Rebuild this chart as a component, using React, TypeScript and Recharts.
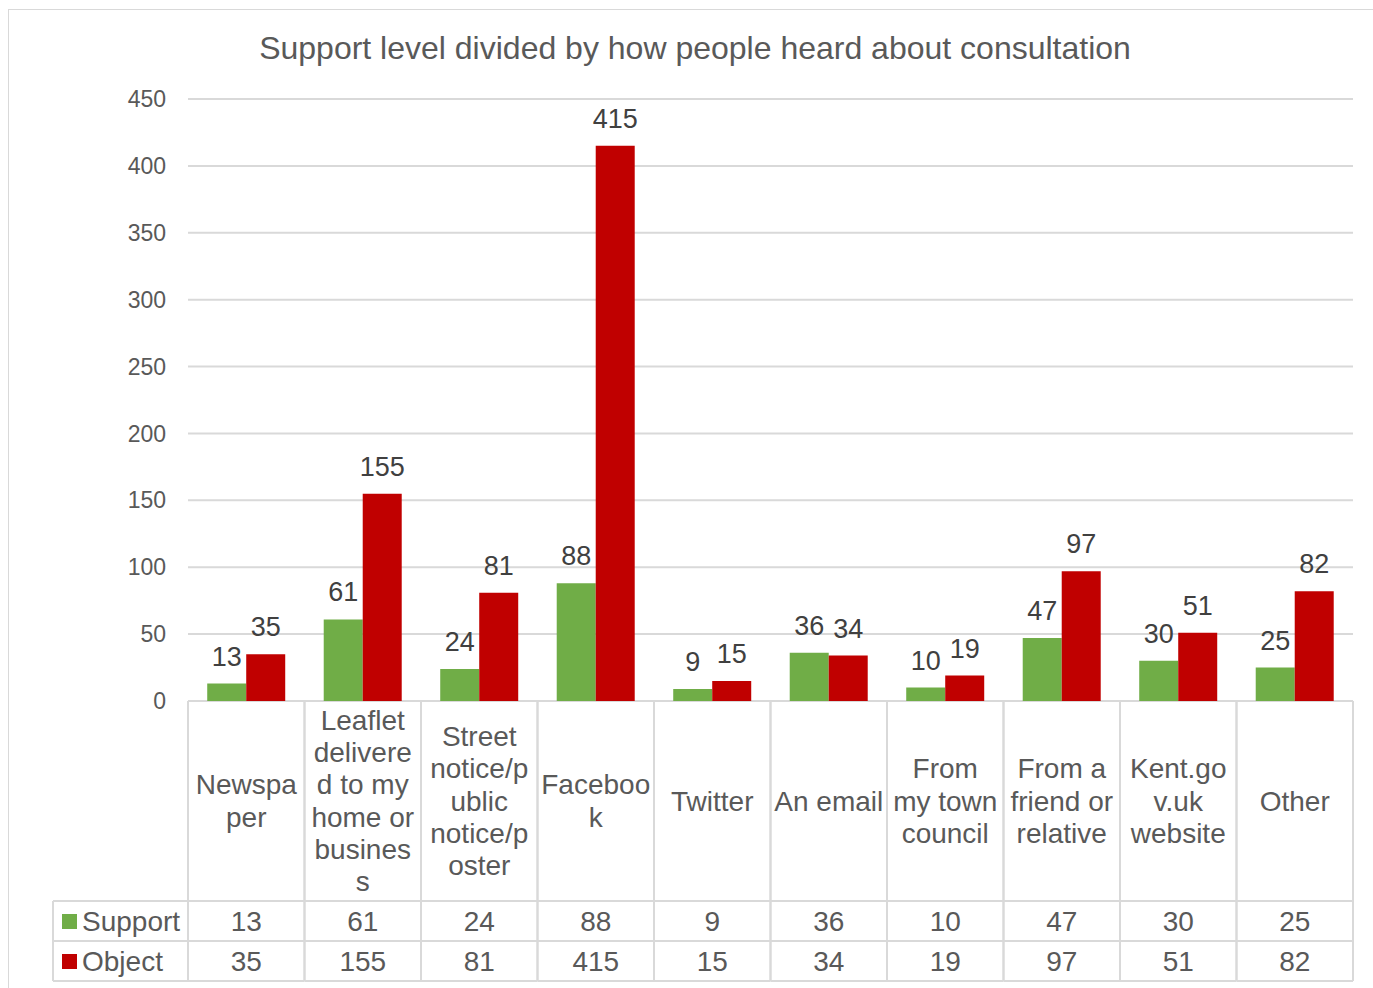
import { BarChart, Bar, XAxis, YAxis, CartesianGrid, LabelList } from 'recharts'

const categories = [
  'Newspaper',
  'Leaflet delivered to my home or business',
  'Street notice/public notice/poster',
  'Facebook',
  'Twitter',
  'An email',
  'From my town council',
  'From a friend or relative',
  'Kent.gov.uk website',
  'Other',
]

// wrapped the same way the source table wraps them
const categoryLines = [
  ['Newspa', 'per'],
  ['Leaflet', 'delivere', 'd to my', 'home or', 'busines', 's'],
  ['Street', 'notice/p', 'ublic', 'notice/p', 'oster'],
  ['Faceboo', 'k'],
  ['Twitter'],
  ['An email'],
  ['From', 'my town', 'council'],
  ['From a', 'friend or', 'relative'],
  ['Kent.go', 'v.uk', 'website'],
  ['Other'],
]

const supportValues = [13, 61, 24, 88, 9, 36, 10, 47, 30, 25]
const objectValues = [35, 155, 81, 415, 15, 34, 19, 97, 51, 82]
const yTicks = [0, 50, 100, 150, 200, 250, 300, 350, 400, 450]

const data = categories.map((name, i) => ({
  name,
  support: supportValues[i],
  object: objectValues[i],
}))

const W = 1373
const H = 988
const PLOT_LEFT = 188
const PLOT_RIGHT = 1353
const PLOT_TOP = 99
const PLOT_BOTTOM = 701
const CELL_W = (PLOT_RIGHT - PLOT_LEFT) / categories.length
const HEADER_H = 200
const ROW_H = 40
const ROW_LABEL_LEFT = 53

const GREEN = '#70AD47'
const RED = '#C00000'
const BORDER = '#d9d9d9'
const TEXT = '#595959'
const FONT = '"Liberation Sans", Arial, sans-serif'

function TableTick(props: any) {
  const { x, y, payload, index } = props
  const lines = categoryLines[index] || [payload.value]
  const left = x - CELL_W / 2
  const right = x + CELL_W / 2
  const r1 = y + HEADER_H
  const r2 = r1 + ROW_H
  const r3 = r2 + ROW_H
  const lh = 32.3
  const firstY = y + HEADER_H / 2 - ((lines.length - 1) * lh) / 2

  return (
    <g fontFamily={FONT}>
      <line x1={left} y1={y} x2={left} y2={r3} stroke={BORDER} strokeWidth={2} />
      <line x1={right} y1={y} x2={right} y2={r3} stroke={BORDER} strokeWidth={2} />
      <line x1={left} y1={r1} x2={right} y2={r1} stroke={BORDER} strokeWidth={2} />
      <line x1={left} y1={r2} x2={right} y2={r2} stroke={BORDER} strokeWidth={2} />
      <line x1={left} y1={r3} x2={right} y2={r3} stroke={BORDER} strokeWidth={2} />
      {lines.map((t: string, i: number) => (
        <text
          key={i}
          x={x}
          y={firstY + i * lh}
          textAnchor="middle"
          dominantBaseline="central"
          fontSize={28}
          fill={TEXT}
        >
          {t}
        </text>
      ))}
      <text x={x} y={r1 + ROW_H / 2} textAnchor="middle" dominantBaseline="central" fontSize={28} fill={TEXT}>
        {supportValues[index]}
      </text>
      <text x={x} y={r2 + ROW_H / 2} textAnchor="middle" dominantBaseline="central" fontSize={28} fill={TEXT}>
        {objectValues[index]}
      </text>
      {index === 0 && (
        <g>
          <line x1={ROW_LABEL_LEFT} y1={r1} x2={left} y2={r1} stroke={BORDER} strokeWidth={2} />
          <line x1={ROW_LABEL_LEFT} y1={r2} x2={left} y2={r2} stroke={BORDER} strokeWidth={2} />
          <line x1={ROW_LABEL_LEFT} y1={r3} x2={left} y2={r3} stroke={BORDER} strokeWidth={2} />
          <line x1={ROW_LABEL_LEFT} y1={r1} x2={ROW_LABEL_LEFT} y2={r3} stroke={BORDER} strokeWidth={2} />
          <rect x={62} y={r1 + 13} width={15} height={15} fill={GREEN} />
          <rect x={62} y={r2 + 13} width={15} height={15} fill={RED} />
          <text x={82} y={r1 + ROW_H / 2} dominantBaseline="central" fontSize={28} fill={TEXT}>
            Support
          </text>
          <text x={82} y={r2 + ROW_H / 2} dominantBaseline="central" fontSize={28} fill={TEXT}>
            Object
          </text>
        </g>
      )}
    </g>
  )
}

export default function App() {
  return (
    <div
      style={{
        position: 'fixed',
        left: 0,
        top: 0,
        width: W,
        height: H,
        overflow: 'hidden',
        background: '#fff',
        fontFamily: FONT,
      }}
    >
      <div
        style={{
          position: 'absolute',
          left: 8,
          top: 9,
          width: W + 20,
          height: H + 20,
          border: `1.5px solid ${BORDER}`,
        }}
      />
      <div
        style={{
          position: 'absolute',
          left: 0,
          top: 30,
          width: 1390,
          textAlign: 'center',
          fontSize: 32,
          lineHeight: '36px',
          color: TEXT,
        }}
      >
        Support level divided by how people heard about consultation
      </div>
      <div style={{ position: 'absolute', left: 0, top: 0 }}>
        <BarChart
          width={W}
          height={H}
          data={data}
          margin={{ top: PLOT_TOP, right: W - PLOT_RIGHT, bottom: 0, left: 0 }}
          barCategoryGap="16.5%"
          barGap={0}
        >
          <CartesianGrid vertical={false} stroke={BORDER} strokeWidth={2} />
          <YAxis
            width={PLOT_LEFT}
            domain={[0, 450]}
            ticks={yTicks}
            axisLine={false}
            tickLine={false}
            tickSize={0}
            tickMargin={22}
            tick={{ fill: TEXT, fontSize: 23, fontFamily: FONT }}
          />
          <XAxis
            dataKey="name"
            height={H - PLOT_BOTTOM}
            interval={0}
            axisLine={false}
            tickLine={false}
            tickSize={0}
            tickMargin={0}
            tick={<TableTick />}
          />
          <Bar dataKey="support" fill={GREEN} isAnimationActive={false}>
            <LabelList dataKey="support" position="top" offset={18} fontSize={27} fill="#404040" fontFamily={FONT} />
          </Bar>
          <Bar dataKey="object" fill={RED} isAnimationActive={false}>
            <LabelList dataKey="object" position="top" offset={18} fontSize={27} fill="#404040" fontFamily={FONT} />
          </Bar>
        </BarChart>
      </div>
    </div>
  )
}
